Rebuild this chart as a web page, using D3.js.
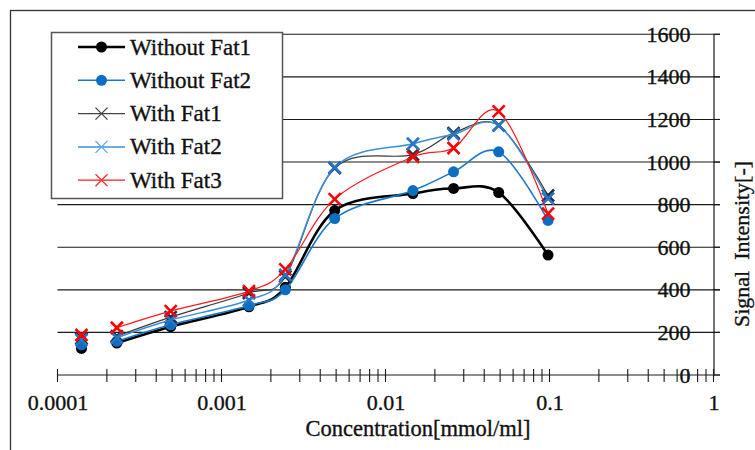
<!DOCTYPE html>
<html>
<head>
<meta charset="utf-8">
<script src="https://cdn.jsdelivr.net/npm/d3@7/dist/d3.min.js"></script>
<style>
  html, body { margin: 0; padding: 0; background: #fff; }
  svg { display: block; }
</style>
</head>
<body>
<svg id="chart" width="755" height="450"></svg>
<script>
// Concentration series [mmol/ml]
const concentrations = [0.00014, 0.00023, 0.00049, 0.00147, 0.00245, 0.0049, 0.0147, 0.026, 0.049, 0.098];

// Signal intensity per sample
const withoutFat1 = [125, 150, 227, 320, 412, 772, 852, 876, 857, 563];
const withoutFat2 = [142, 158, 236, 326, 400, 735, 866, 954, 1048, 726];
const withFat1    = [172, 182, 272, 385, 462, 972, 1035, 1136, 1172, 843];
const withFat2    = [165, 175, 258, 352, 470, 975, 1086, 1130, 1172, 828];
const withFat3    = [188, 222, 300, 394, 496, 826, 1024, 1066, 1238, 758];

const seriesNames = ["Without Fat1", "Without Fat2", "With Fat1", "With Fat2", "With Fat3"];

// Axis tick labels
const xTickLabels = ["0.0001", "0.001", "0.01", "0.1", "1"];
const yTickValues = [0, 200, 400, 600, 800, 1000, 1200, 1400, 1600];

const FONT = "'Liberation Serif', 'Times New Roman', Times, serif";

// slightly heavier text strokes
function styleText(sel, size) {
  sel.style("font-family", FONT).style("font-size", size + "px")
    .attr("fill", "#111").attr("stroke", "#111").attr("stroke-width", 0.35);
}

const svg = d3.select("#chart").attr("font-family", FONT);

const x = d3.scaleLog().domain([1e-4, 1]).range([57.5, 713.5]);
const y = d3.scaleLinear().domain([0, 1600]).range([375, 34.3]);

// outer frame
svg.append("rect")
  .attr("x", 10.5).attr("y", 10.5)
  .attr("width", 800).attr("height", 500)
  .attr("fill", "none").attr("stroke", "#333").attr("stroke-width", 1.3);

// horizontal gridlines (run across the right axis as outer ticks)
svg.append("g").selectAll("line")
  .data(yTickValues.filter(v => v > 0))
  .join("line")
  .attr("x1", x(1e-4)).attr("x2", x(1) + 6.5)
  .attr("y1", d => y(d)).attr("y2", d => y(d))
  .attr("stroke", "#1a1a1a").attr("stroke-width", 1.1);

// y axis on the right, labels inside the plot
const yAxis = d3.axisLeft(y).tickValues(yTickValues).tickSize(0).tickPadding(23)
  .tickFormat(d3.format("d"));
const gy = svg.append("g").attr("transform", `translate(${x(1)},0)`).call(yAxis)
  .attr("font-family", FONT).attr("font-size", 22);
gy.select(".domain").attr("stroke", "#1a1a1a").attr("stroke-width", 1.2);
styleText(gy.selectAll("text"), 22);

// x axis with log ticks crossing the line
const decades = [1e-4, 1e-3, 1e-2, 1e-1, 1];
const xAxis = d3.axisBottom(x).tickValues(decades).tickSize(0).tickPadding(19)
  .tickFormat((d, i) => xTickLabels[i]);
const gx = svg.append("g").attr("transform", `translate(0,${y(0)})`).call(xAxis)
  .attr("font-family", FONT).attr("font-size", 22);
gx.select(".domain").attr("d", `M${x(1e-4)},0H${x(1) + 6.5}`)
  .attr("stroke", "#1a1a1a").attr("stroke-width", 1.2);
styleText(gx.selectAll("text"), 22);

svg.append("g").selectAll("line")
  .data(x.ticks())
  .join("line")
  .attr("x1", d => x(d)).attr("x2", d => x(d))
  .attr("y1", y(0) - 6).attr("y2", y(0) + 7)
  .attr("stroke", "#1a1a1a").attr("stroke-width", 1.1);

// y ticks outward
svg.append("g").selectAll("line")
  .data(yTickValues)
  .join("line")
  .attr("x1", x(1)).attr("x2", x(1) + 6.5)
  .attr("y1", d => y(d)).attr("y2", d => y(d))
  .attr("stroke", "#1a1a1a").attr("stroke-width", 1.1);

// axis titles
styleText(svg.append("text")
  .attr("x", 418).attr("y", 435.5)
  .attr("text-anchor", "middle")
  .text("Concentration[mmol/ml]"), 22.5);

styleText(svg.append("text")
  .attr("transform", "translate(749,244) rotate(-90)")
  .attr("text-anchor", "middle")
  .style("white-space", "pre")
  .text("Signal  Intensity[-]"), 22);

// series styling
const series = [
  { name: seriesNames[0], values: withoutFat1, line: "#000000", lw: 2.6, marker: "dot", mc: "#000000" },
  { name: seriesNames[1], values: withoutFat2, line: "#1a78c8", lw: 1.6, marker: "dot", mc: "#0a6fc2" },
  { name: seriesNames[2], values: withFat1,    line: "#3a3a3a", lw: 1.2, marker: "x",   mc: "#1d2f4a" },
  { name: seriesNames[3], values: withFat2,    line: "#3d8fd6", lw: 1.5, marker: "x",   mc: "#2676c4" },
  { name: seriesNames[4], values: withFat3,    line: "#ff1a1a", lw: 1.2, marker: "x",   mc: "#ff0000" }
];

// smoothed line starts at the second sample; the first sample is marker-only
const line = d3.line()
  .defined((d, i) => i > 0)
  .x((d, i) => x(concentrations[i]))
  .y(d => y(d))
  .curve(d3.curveCatmullRom.alpha(0));

function drawMarker(g, type, cx, cy, color, size) {
  if (type === "dot") {
    g.append("circle").attr("cx", cx).attr("cy", cy).attr("r", size)
      .attr("fill", color);
  } else {
    const s = size;
    g.append("path")
      .attr("d", `M${cx - s},${cy - s}L${cx + s},${cy + s}M${cx - s},${cy + s}L${cx + s},${cy - s}`)
      .attr("stroke", color).attr("stroke-width", 2.6).attr("fill", "none");
  }
}

const plot = svg.append("g");
series.forEach(s => {
  plot.append("path")
    .datum(s.values)
    .attr("d", line)
    .attr("fill", "none")
    .attr("stroke", s.line)
    .attr("stroke-width", s.lw);
  const mg = plot.append("g");
  s.values.forEach((v, i) => {
    drawMarker(mg, s.marker, x(concentrations[i]), y(v), s.mc, s.marker === "dot" ? 5.5 : 6);
  });
});

// legend
const legend = svg.append("g");
legend.append("rect")
  .attr("x", 51.5).attr("y", 32.5).attr("width", 231).attr("height", 166)
  .attr("fill", "#fff").attr("stroke", "#555").attr("stroke-width", 1.5);

const legendMarkers = [
  { line: "#000", lw: 2.6, marker: "dot", mc: "#000", size: 5.5 },
  { line: "#1a78c8", lw: 1.6, marker: "dot", mc: "#0a6fc2", size: 5.5 },
  { line: "#444", lw: 1.2, marker: "x", mc: "#444", size: 6 },
  { line: "#3d8fd6", lw: 1.5, marker: "x", mc: "#5aa6e6", size: 6 },
  { line: "#ff1a1a", lw: 1.2, marker: "x", mc: "#ff3030", size: 6 }
];

seriesNames.forEach((name, i) => {
  const cy = 47 + i * 33.3;
  const m = legendMarkers[i];
  const g = legend.append("g");
  g.append("line").attr("x1", 78).attr("x2", 125).attr("y1", cy).attr("y2", cy)
    .attr("stroke", m.line).attr("stroke-width", m.lw);
  if (m.marker === "dot") {
    g.append("circle").attr("cx", 101.5).attr("cy", cy).attr("r", m.size).attr("fill", m.mc);
  } else {
    const s = m.size;
    g.append("path")
      .attr("d", `M${101.5 - s},${cy - s}L${101.5 + s},${cy + s}M${101.5 - s},${cy + s}L${101.5 + s},${cy - s}`)
      .attr("stroke", m.mc).attr("stroke-width", 1.3).attr("fill", "none");
  }
  styleText(g.append("text").attr("x", 130).attr("y", cy + 7.5).text(name), 23);
});
</script>
</body>
</html>
